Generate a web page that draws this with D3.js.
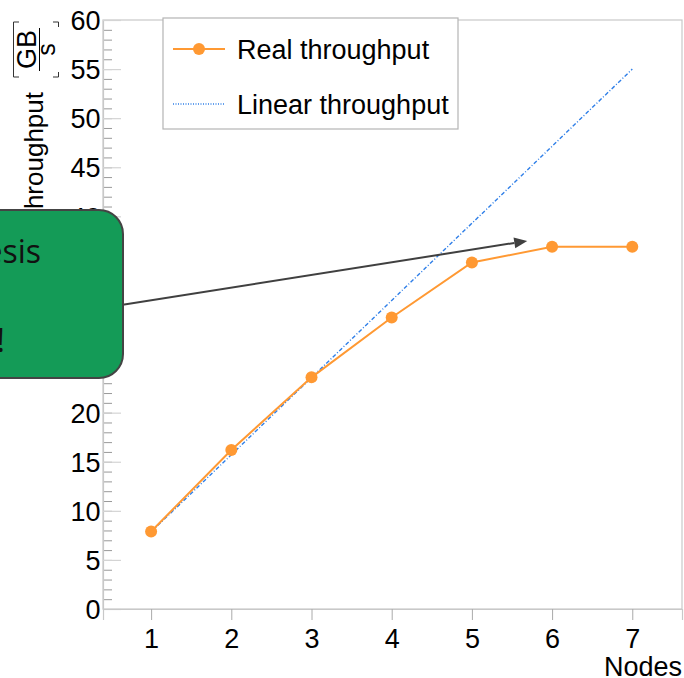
<!DOCTYPE html>
<html>
<head>
<meta charset="utf-8">
<script src="https://cdn.jsdelivr.net/npm/d3@7"></script>
<style>
  html, body { margin: 0; padding: 0; background: #fff; }
  svg { display: block; }
  text { font-family: "Liberation Sans", Arial, sans-serif; }
</style>
</head>
<body>
<svg id="chart" width="684" height="678"></svg>
<script>
// ---- data ----
const nodes = [1, 2, 3, 4, 5, 6, 7];
const realThroughput = [7.9, 16.2, 23.6, 29.7, 35.3, 36.9, 36.9];
const linearThroughput = [7.86, 15.71, 23.57, 31.43, 39.29, 47.14, 55.0];
const yTicks = [0, 5, 10, 15, 20, 25, 30, 35, 40, 45, 50, 55, 60];
const xTicks = [1, 2, 3, 4, 5, 6, 7];
const legendLabels = ["Real throughput", "Linear throughput"];
const xTitle = "Nodes";
const yTitle = "Throughput";
const unitTop = "GB";
const unitBottom = "s";
const noteLines = ["Hypothesis", "not confirmed:", "Bandwidth limit!"];
const arrowFrom = [0.35, 30.6];   // data coords (x, y)
const arrowTo = [5.69, 37.5];

(function () {
const svg = d3.select("#chart");
const pLeft = 103, pRight = 682, pTop = 20, pBottom = 609;
const FS = 27;

const x = d3.scaleLinear().domain([0.4, 7.62]).range([pLeft, pRight]);
const y = d3.scaleLinear().domain([0, 60]).range([pBottom, pTop]);

const orange = "#ff9933";
const blue = "#2f7fe8";

function label(g, tx, ty, str, size, anchor, rot) {
  return g.append("text")
    .attr("transform", `translate(${tx},${ty})` + (rot ? ` rotate(${rot})` : ""))
    .attr("text-anchor", anchor || "start")
    .attr("font-size", size).attr("fill", "#000")
    .text(str);
}

// frame
svg.append("rect")
  .attr("x", pLeft).attr("y", pTop)
  .attr("width", pRight - pLeft).attr("height", pBottom - pTop)
  .attr("fill", "none").attr("stroke", "#c8c8c8").attr("stroke-width", 1.2);

// y minor ticks
const yMinor = d3.axisLeft(y).tickValues(d3.range(0, 61, 1)).tickSize(-9).tickFormat("");
const gMinor = svg.append("g").attr("transform", `translate(${pLeft},0)`).call(yMinor);
gMinor.select(".domain").remove();
gMinor.selectAll("line").attr("stroke", "#999").attr("stroke-width", 1);

// y major ticks
const yAxis = d3.axisLeft(y).tickValues(yTicks).tickSize(-18).tickPadding(0).tickFormat(d3.format("d"));
const gy = svg.append("g").attr("transform", `translate(${pLeft},0)`).call(yAxis);
gy.select(".domain").attr("stroke", "#c8c8c8").attr("stroke-width", 1.2);
gy.selectAll("line").attr("stroke", "#d4d4d4").attr("stroke-width", 1.2);
gy.selectAll("text")
  .attr("x", -2.5).attr("dy", "0.36em")
  .attr("font-size", FS).attr("fill", "#000")
  .style("font-family", "Liberation Sans, Arial, sans-serif");

// x axis
const xAxis = d3.axisBottom(x).tickValues(xTicks).tickSize(11).tickPadding(0).tickFormat(d3.format("d"));
const gx = svg.append("g").attr("transform", `translate(0,${pBottom})`).call(xAxis);
gx.select(".domain").attr("stroke", "#c8c8c8").attr("stroke-width", 1.2);
gx.selectAll("line").attr("stroke", "#aaa").attr("stroke-width", 1);
gx.selectAll("text")
  .attr("y", 39).attr("dy", 0)
  .attr("font-size", FS).attr("fill", "#000")
  .style("font-family", "Liberation Sans, Arial, sans-serif");

// x title
label(svg, 682, 676, xTitle, FS, "end");

// y title (rotated)
label(svg, 43, 92, yTitle, 26, "end", -90);
// unit fraction
const gu = svg.append("g");
label(gu, 35.5, 49.5, unitTop, 27, "middle", -90);
label(gu, 55, 49.5, unitBottom, 25, "middle", -90);
gu.append("line").attr("x1", 39.5).attr("x2", 39.5).attr("y1", 28).attr("y2", 71)
  .attr("stroke", "#000").attr("stroke-width", 1);
gu.append("path")
  .attr("d", "M19,22 L13.5,22 L13.5,77 L19,77 M53,22 L58.5,22 L58.5,27 M53,77 L58.5,77 L58.5,72")
  .attr("fill", "none").attr("stroke", "#333").attr("stroke-width", 1);

// linear line
const line = d3.line().x((d, i) => x(nodes[i])).y(d => y(d));
svg.append("path").datum(linearThroughput)
  .attr("d", line).attr("fill", "none")
  .attr("stroke", blue).attr("stroke-width", 1.4)
  .attr("stroke-dasharray", "4,2,1,2");

// real line
svg.append("path").datum(realThroughput)
  .attr("d", line).attr("fill", "none")
  .attr("stroke", orange).attr("stroke-width", 2);
svg.append("g").selectAll("circle").data(realThroughput).join("circle")
  .attr("cx", (d, i) => x(nodes[i])).attr("cy", d => y(d))
  .attr("r", 6).attr("fill", orange);

// legend
const lg = svg.append("g");
lg.append("rect").attr("x", 163).attr("y", 18).attr("width", 295).attr("height", 111)
  .attr("fill", "#fff").attr("stroke", "#b4b4b4").attr("stroke-width", 1.2);
lg.append("line").attr("x1", 173).attr("x2", 225).attr("y1", 49).attr("y2", 49)
  .attr("stroke", orange).attr("stroke-width", 2);
lg.append("circle").attr("cx", 199).attr("cy", 49).attr("r", 6).attr("fill", orange);
lg.append("line").attr("x1", 173).attr("x2", 225).attr("y1", 104).attr("y2", 104)
  .attr("stroke", blue).attr("stroke-width", 1.3).attr("stroke-dasharray", "1,1.5");
label(lg, 237, 59, legendLabels[0], FS, "start");
label(lg, 237, 114, legendLabels[1], FS, "start");

// annotation arrow
const ax1 = x(arrowFrom[0]), ay1 = y(arrowFrom[1]);
const ax2 = x(arrowTo[0]), ay2 = y(arrowTo[1]);
const ang = Math.atan2(ay2 - ay1, ax2 - ax1);
const hl = 13, hw = 5.5;
const bx = ax2 - hl * Math.cos(ang), by = ay2 - hl * Math.sin(ang);
svg.append("line").attr("x1", ax1).attr("y1", ay1).attr("x2", bx).attr("y2", by)
  .attr("stroke", "#404040").attr("stroke-width", 2);
svg.append("path")
  .attr("d", `M${ax2},${ay2} L${bx + hw * Math.sin(ang)},${by - hw * Math.cos(ang)} L${bx - hw * Math.sin(ang)},${by + hw * Math.cos(ang)} Z`)
  .attr("fill", "#404040");

// annotation box
svg.append("rect").attr("x", -240).attr("y", 210).attr("width", 363).attr("height", 168)
  .attr("rx", 24).attr("ry", 24)
  .attr("fill", "#149b57").attr("stroke", "#444").attr("stroke-width", 2);
const noteY = [263, 307.5, 352];
const noteX = [41, -3, 5];
svg.append("g").selectAll("text").data(noteLines).join("text")
  .attr("x", (d, i) => noteX[i]).attr("y", (d, i) => noteY[i])
  .attr("text-anchor", "end")
  .attr("font-size", 32).attr("fill", "#111")
  .style("font-family", "'Open Sans', 'Noto Sans', sans-serif")
  .text(d => d);
})();
</script>
</body>
</html>
